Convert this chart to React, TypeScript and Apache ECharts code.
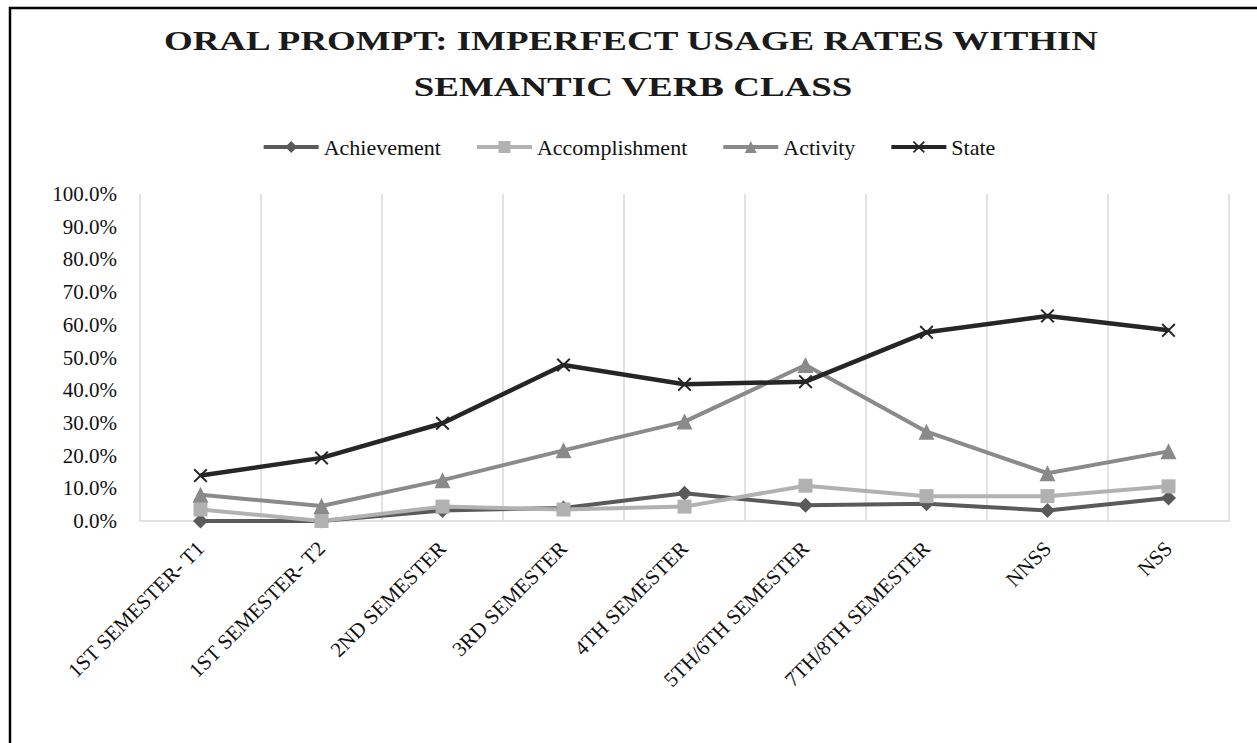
import React, { useEffect, useRef } from "react";
import * as echarts from "echarts";

const categories = [
  "1ST SEMESTER- T1",
  "1ST SEMESTER- T2",
  "2ND SEMESTER",
  "3RD SEMESTER",
  "4TH SEMESTER",
  "5TH/6TH SEMESTER",
  "7TH/8TH SEMESTER",
  "NNSS",
  "NSS",
];

const achievement = [0, 0, 3.2, 4.0, 8.5, 4.8, 5.3, 3.2, 7.0];
const accomplishment = [3.5, 0, 4.4, 3.5, 4.4, 10.8, 7.6, 7.6, 10.6];
const activity = [8.0, 4.6, 12.5, 21.6, 30.4, 47.7, 27.3, 14.6, 21.3];
const state = [13.9, 19.3, 29.9, 47.7, 41.8, 42.6, 57.7, 62.7, 58.3];

const titleLines = ["ORAL PROMPT: IMPERFECT USAGE RATES WITHIN", "SEMANTIC VERB CLASS"];

const FONT = "'Liberation Serif', 'Times New Roman', serif";
const X_SYMBOL =
  "path://M0,1 L1,0 L5,4 L9,0 L10,1 L6,5 L10,9 L9,10 L5,6 L1,10 L0,9 L4,5 Z";

export default function App() {
  const ref = useRef<HTMLDivElement>(null);

  useEffect(() => {
    if (!ref.current) return;
    const chart = echarts.init(ref.current, undefined, { renderer: "svg" });

    const mk = (
      name: string,
      data: number[],
      color: string,
      symbol: string,
      symbolSize: number,
      width: number
    ) => ({
      name,
      type: "line",
      data,
      symbol,
      symbolSize,
      showSymbol: true,
      lineStyle: { color, width },
      itemStyle: { color },
      z: 2,
    });

    chart.setOption({
      animation: false,
      backgroundColor: "#ffffff",
      textStyle: { fontFamily: FONT },
      graphic: [
        {
          type: "rect",
          shape: { x: 10, y: 8, width: 1400, height: 900 },
          style: { fill: "none", stroke: "#000", lineWidth: 2.5 },
          silent: true,
        },
        {
          type: "text",
          x: 631,
          y: 41,
          scaleX: 1.32,
          style: {
            text: titleLines[0],
            font: `bold 28px ${FONT}`,
            fill: "#1a1a1a",
            align: "center",
            verticalAlign: "middle",
          },
        },
        {
          type: "text",
          x: 633,
          y: 87,
          scaleX: 1.32,
          style: {
            text: titleLines[1],
            font: `bold 28px ${FONT}`,
            fill: "#1a1a1a",
            align: "center",
            verticalAlign: "middle",
          },
        },
      ],
      legend: {
        top: 131,
        left: "center",
        itemWidth: 55,
        itemHeight: 15,
        itemGap: 34,
        lineStyle: { width: 4 },
        textStyle: { fontFamily: FONT, fontSize: 22, color: "#111" },
        data: ["Achievement", "Accomplishment", "Activity", "State"],
      },
      grid: { left: 140, right: 28, top: 194, bottom: 222, containLabel: false },
      xAxis: {
        type: "category",
        data: categories,
        boundaryGap: true,
        axisLine: { show: true, lineStyle: { color: "#d9d9d9", width: 1.5 } },
        axisTick: { show: false },
        splitLine: { show: true, lineStyle: { color: "#d9d9d9", width: 1.5 } },
        axisLabel: {
          rotate: 45,
          interval: 0,
          margin: 24,
          fontFamily: FONT,
          fontSize: 21,
          color: "#111",
        },
      },
      yAxis: {
        type: "value",
        min: 0,
        max: 100,
        interval: 10,
        axisLine: { show: false },
        axisTick: { show: false },
        splitLine: { show: false },
        axisLabel: {
          margin: 23,
          fontFamily: FONT,
          fontSize: 21,
          color: "#111",
          formatter: (v: number) => v.toFixed(1) + "%",
        },
      },
      series: [
        mk("Achievement", achievement, "#5a5a5a", "diamond", 15, 4),
        mk("Accomplishment", accomplishment, "#b1b1b1", "rect", 14, 4),
        mk("Activity", activity, "#8a8a8a", "triangle", 16, 4),
        mk("State", state, "#262626", X_SYMBOL, 14, 4.5),
      ],
    });

    return () => chart.dispose();
  }, []);

  return (
    <div
      ref={ref}
      style={{ position: "absolute", left: 0, top: 0, width: 1257, height: 743 }}
    />
  );
}
